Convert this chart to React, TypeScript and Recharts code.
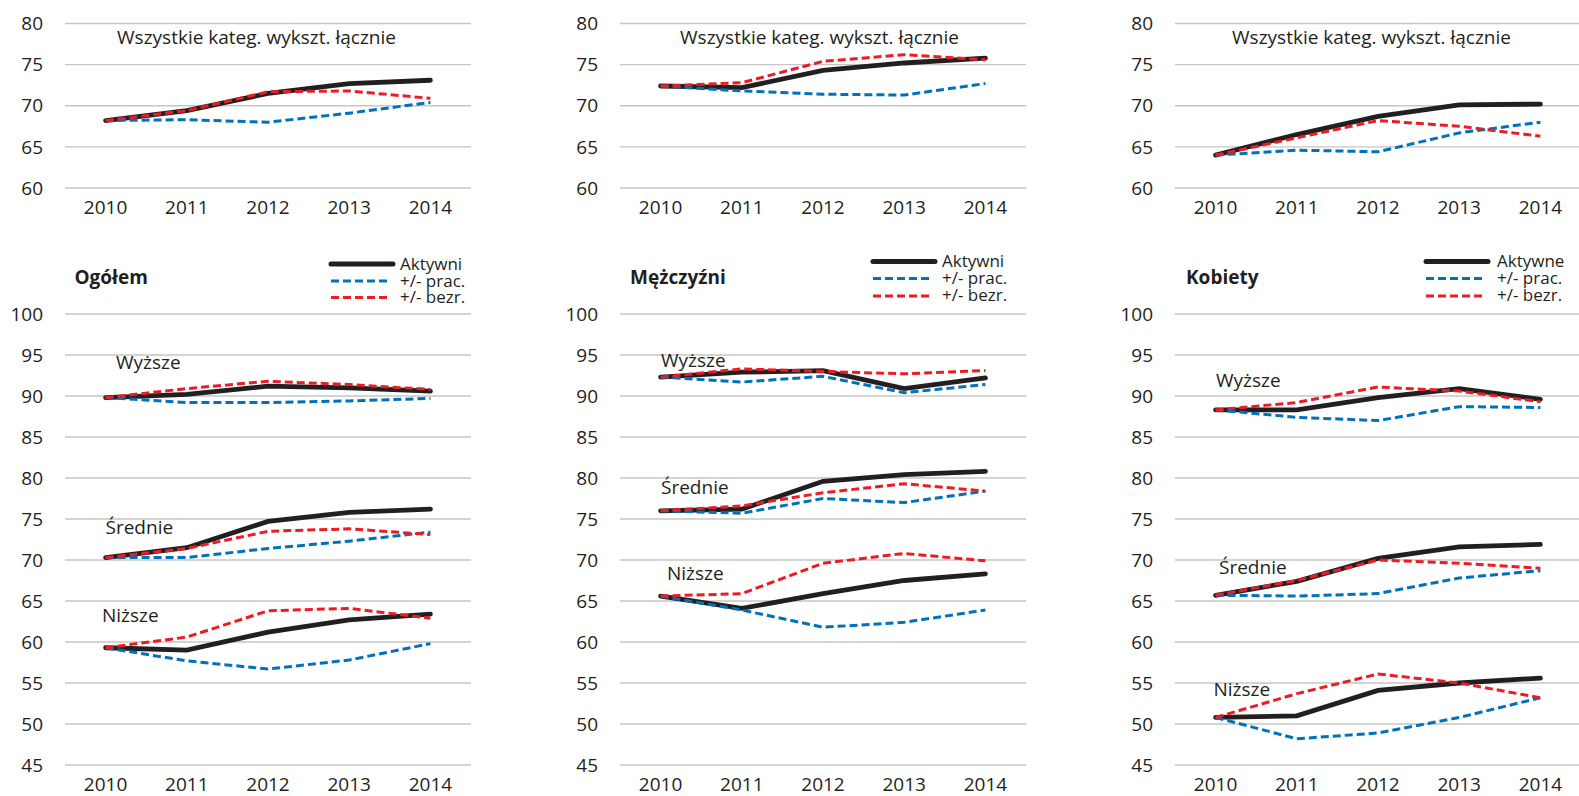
import React from 'react';
import { LineChart, Line, XAxis, YAxis, CartesianGrid } from 'recharts';

const years = ['2010', '2011', '2012', '2013', '2014'];

// górny rząd: wszystkie kategorie wykształcenia łącznie
const ogolemLacznie = { akt: [68.2, 69.4, 71.5, 72.7, 73.1], prac: [68.2, 68.3, 68.0, 69.1, 70.4], bezr: [68.2, 69.4, 71.7, 71.8, 70.9] };
const mezczyzniLacznie = { akt: [72.4, 72.2, 74.3, 75.2, 75.8], prac: [72.4, 71.8, 71.4, 71.3, 72.7], bezr: [72.4, 72.8, 75.4, 76.2, 75.6] };
const kobietyLacznie = { akt: [64.0, 66.5, 68.7, 70.1, 70.2], prac: [64.0, 64.6, 64.4, 66.7, 68.0], bezr: [64.0, 66.1, 68.2, 67.5, 66.3] };

// dolny rząd: wg poziomu wykształcenia
const ogolemWyzsze = { akt: [89.8, 90.2, 91.2, 91.0, 90.6], prac: [89.8, 89.2, 89.2, 89.4, 89.7], bezr: [89.8, 90.9, 91.8, 91.4, 90.8] };
const ogolemSrednie = { akt: [70.3, 71.5, 74.7, 75.8, 76.2], prac: [70.3, 70.3, 71.4, 72.3, 73.4], bezr: [70.3, 71.4, 73.5, 73.8, 73.1] };
const ogolemNizsze = { akt: [59.3, 59.0, 61.2, 62.7, 63.4], prac: [59.3, 57.7, 56.7, 57.8, 59.8], bezr: [59.3, 60.6, 63.8, 64.1, 62.9] };

const mezczyzniWyzsze = { akt: [92.3, 92.9, 93.1, 90.9, 92.2], prac: [92.3, 91.7, 92.4, 90.4, 91.4], bezr: [92.3, 93.3, 93.0, 92.7, 93.1] };
const mezczyzniSrednie = { akt: [76.0, 76.2, 79.6, 80.4, 80.8], prac: [76.0, 75.7, 77.5, 77.0, 78.4], bezr: [76.0, 76.6, 78.2, 79.3, 78.4] };
const mezczyzniNizsze = { akt: [65.6, 64.1, 65.9, 67.5, 68.3], prac: [65.6, 63.9, 61.8, 62.4, 63.9], bezr: [65.6, 65.9, 69.6, 70.8, 69.9] };

const kobietyWyzsze = { akt: [88.3, 88.3, 89.8, 90.9, 89.6], prac: [88.3, 87.4, 87.0, 88.7, 88.6], bezr: [88.3, 89.2, 91.1, 90.6, 89.3] };
const kobietySrednie = { akt: [65.7, 67.4, 70.2, 71.6, 71.9], prac: [65.7, 65.6, 65.9, 67.8, 68.7], bezr: [65.7, 67.5, 70.0, 69.6, 69.0] };
const kobietyNizsze = { akt: [50.8, 51.0, 54.1, 55.0, 55.6], prac: [50.8, 48.2, 48.9, 50.8, 53.2], bezr: [50.8, 53.7, 56.1, 55.0, 53.2] };

const topTicks = [60, 65, 70, 75, 80];
const bottomTicks = [45, 50, 55, 60, 65, 70, 75, 80, 85, 90, 95, 100];

const BLACK = '#231f20';
const BLUE = '#0072bc';
const RED = '#ed1c24';
const GRID = '#c6c6c6';
const FONT = "'Open Sans', sans-serif";

type Series = { akt: number[]; prac: number[]; bezr: number[] };

const buildRows = (groups: Record<string, Series>) =>
  years.map((year, i) => {
    const row: any = { year };
    Object.entries(groups).forEach(([k, s]) => {
      row[k + 'Akt'] = s.akt[i];
      row[k + 'Prac'] = s.prac[i];
      row[k + 'Bezr'] = s.bezr[i];
    });
    return row;
  });

const PLOT_W = 406;
const AXIS_W = 65;

interface PanelProps {
  left: number;
  top: number;
  height: number;
  plotTop: number;
  plotHeight: number;
  domain: [number, number];
  ticks: number[];
  groups: Record<string, Series>;
}

function Panel({ left, top, height, plotTop, plotHeight, domain, ticks, groups }: PanelProps) {
  const rows = buildRows(groups);
  const keys = Object.keys(groups);
  const tickStyle = { fill: BLACK, fontSize: 19, fontFamily: FONT };
  return (
    <div style={{ position: 'absolute', left, top }}>
      <LineChart width={AXIS_W + PLOT_W + 10} height={height} data={rows} margin={{ top: plotTop, right: 10, bottom: 0, left: 0 }}>
        <CartesianGrid vertical={false} stroke={GRID} strokeWidth={1.3} />
        <XAxis
          dataKey="year"
          height={height - plotTop - plotHeight}
          padding={{ left: PLOT_W / 10, right: PLOT_W / 10 }}
          axisLine={false}
          tickLine={false}
          tickSize={0}
          tickMargin={13}
          interval={0}
          tick={tickStyle}
        />
        <YAxis
          type="number"
          domain={domain}
          ticks={ticks}
          width={AXIS_W}
          axisLine={false}
          tickLine={false}
          tickSize={0}
          tickMargin={22}
          interval={0}
          tick={tickStyle}
        />
        {keys.flatMap((k) => [
          <Line key={k + 'Akt'} type="linear" dataKey={k + 'Akt'} stroke={BLACK} strokeWidth={4.8} strokeLinecap="round" dot={false} isAnimationActive={false} />,
          <Line key={k + 'Prac'} type="linear" dataKey={k + 'Prac'} stroke={BLUE} strokeWidth={3} strokeDasharray="8 4" dot={false} isAnimationActive={false} />,
          <Line key={k + 'Bezr'} type="linear" dataKey={k + 'Bezr'} stroke={RED} strokeWidth={3} strokeDasharray="8 4" dot={false} isAnimationActive={false} />,
        ])}
      </LineChart>
    </div>
  );
}

function LegendBlock({ x, textX, ys, baselines, first }: { x: number; textX: number; ys: number[]; baselines: number[]; first: string }) {
  return (
    <g fontFamily={FONT} fontSize={17} fill={BLACK}>
      <line x1={x} x2={x + 62} y1={ys[0]} y2={ys[0]} stroke={BLACK} strokeWidth={5} strokeLinecap="round" />
      <line x1={x} x2={x + 58} y1={ys[1]} y2={ys[1]} stroke={BLUE} strokeWidth={3} strokeDasharray="8 4" />
      <line x1={x} x2={x + 58} y1={ys[2]} y2={ys[2]} stroke={RED} strokeWidth={3} strokeDasharray="8 4" />
      <text x={textX} y={baselines[0]}>{first}</text>
      <text x={textX} y={baselines[1]}>+/- prac.</text>
      <text x={textX} y={baselines[2]}>+/- bezr.</text>
    </g>
  );
}

export default function App() {
  const groupLabel = (x: number, y: number, t: string) => (
    <text x={x} y={y} fontFamily={FONT} fontSize={19} fill={BLACK}>{t}</text>
  );
  return (
    <div style={{ position: 'fixed', left: 0, top: 0, width: 1579, height: 796, overflow: 'hidden', background: '#fff' }}>
      <Panel left={0} top={0} height={230} plotTop={23.5} plotHeight={164.5} domain={[60, 80]} ticks={topTicks} groups={{ all: ogolemLacznie }} />
      <Panel left={555} top={0} height={230} plotTop={23.5} plotHeight={164.5} domain={[60, 80]} ticks={topTicks} groups={{ all: mezczyzniLacznie }} />
      <Panel left={1110} top={0} height={230} plotTop={23.5} plotHeight={164.5} domain={[60, 80]} ticks={topTicks} groups={{ all: kobietyLacznie }} />

      <Panel left={0} top={240} height={556} plotTop={74} plotHeight={451} domain={[45, 100]} ticks={bottomTicks} groups={{ w: ogolemWyzsze, s: ogolemSrednie, n: ogolemNizsze }} />
      <Panel left={555} top={240} height={556} plotTop={74} plotHeight={451} domain={[45, 100]} ticks={bottomTicks} groups={{ w: mezczyzniWyzsze, s: mezczyzniSrednie, n: mezczyzniNizsze }} />
      <Panel left={1110} top={240} height={556} plotTop={74} plotHeight={451} domain={[45, 100]} ticks={bottomTicks} groups={{ w: kobietyWyzsze, s: kobietySrednie, n: kobietyNizsze }} />

      <svg width={1579} height={796} style={{ position: 'absolute', left: 0, top: 0, pointerEvents: 'none' }}>
        <g fontFamily={FONT} fontSize={19} fill={BLACK} textAnchor="middle">
          <text x={256.5} y={43.5}>Wszystkie kateg. wykszt. łącznie</text>
          <text x={819.5} y={43.5}>Wszystkie kateg. wykszt. łącznie</text>
          <text x={1371.5} y={43.5}>Wszystkie kateg. wykszt. łącznie</text>
        </g>
        <g fontFamily={FONT} fontSize={19} fontWeight={700} fill={BLACK}>
          <text x={74.5} y={284}>Ogółem</text>
          <text x={630} y={284}>Mężczyźni</text>
          <text x={1186} y={284}>Kobiety</text>
        </g>
        <LegendBlock x={331} textX={400} ys={[264, 281, 297.5]} baselines={[270, 286.5, 302.5]} first="Aktywni" />
        <LegendBlock x={873} textX={942} ys={[261.5, 278.5, 296]} baselines={[267, 283.5, 301]} first="Aktywni" />
        <LegendBlock x={1426} textX={1497} ys={[261.5, 278.5, 296]} baselines={[267, 283.5, 301]} first="Aktywne" />

        {groupLabel(116, 369, 'Wyższe')}
        {groupLabel(105.5, 533.5, 'Średnie')}
        {groupLabel(102, 621.5, 'Niższe')}
        {groupLabel(661, 366.5, 'Wyższe')}
        {groupLabel(661, 494, 'Średnie')}
        {groupLabel(667, 579.5, 'Niższe')}
        {groupLabel(1216, 387, 'Wyższe')}
        {groupLabel(1219, 574, 'Średnie')}
        {groupLabel(1213.5, 696, 'Niższe')}
      </svg>
    </div>
  );
}
